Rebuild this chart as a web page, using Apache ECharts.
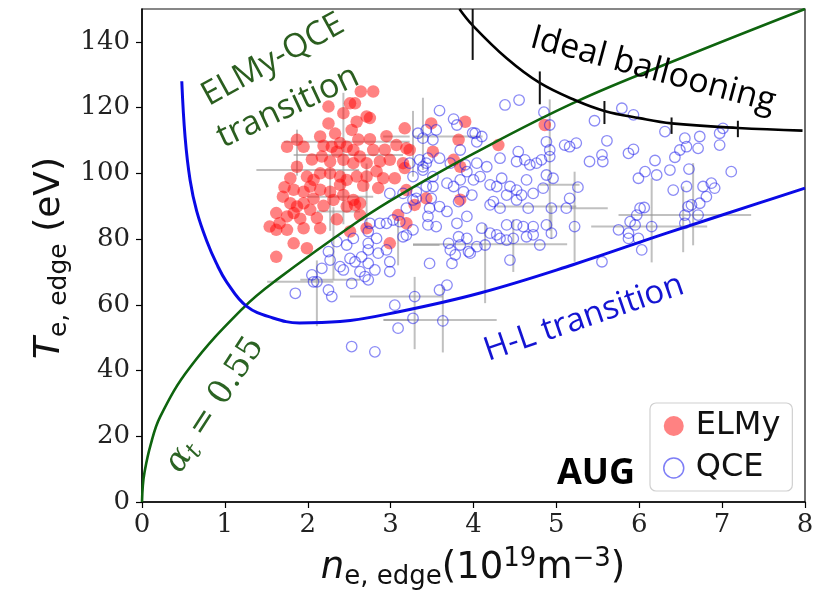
<!DOCTYPE html>
<html>
<head>
<meta charset="utf-8">
<script src="https://cdn.jsdelivr.net/npm/echarts@6/dist/echarts.min.js"></script>
<style>html,body{margin:0;padding:0;background:#fff;}#c{width:821px;height:594px;}</style>
</head>
<body>
<div id="c"></div>
<script>
// ---------- data ----------
const elmyPoints = [
[2.64,124.9],[2.79,124.9],[2.25,120.3],[2.51,121.3],[2.57,121.3],[2.71,117.3],[2.75,116.8],[2.25,115.2],[2.43,118.3],[2.15,111.2],
[1.75,108.1],[1.95,108.1],[2.39,109.2],[2.47,108.1],[2.29,108.1],[2.35,106.6],[2.55,107.1],[2.63,105.1],[2.79,107.1],[2.17,105.1],
[2.27,103.6],[2.43,104.1],[2.55,103.1],[2.71,103.1],[1.87,102.0],[1.99,99.0],[2.07,98.0],[2.15,100.0],[2.27,100.0],[2.39,99.0],
[2.47,98.0],[2.59,99.0],[2.71,99.0],[1.83,95.0],[1.95,94.4],[2.03,96.0],[2.15,95.0],[2.27,94.4],[2.31,91.9],[2.43,93.4],
[2.55,91.9],[2.63,90.9],[1.70,92.9],[1.79,90.9],[1.87,89.9],[1.95,90.9],[2.03,88.9],[1.62,87.9],[1.66,84.8],[1.75,86.9],
[1.83,87.9],[1.54,83.8],[1.62,82.8],[1.75,82.8],[1.95,83.3],[2.11,86.4],[2.15,83.3],[1.83,78.7],[1.99,77.2],[1.62,74.6],
[2.51,82.3],[2.47,89.9],[2.57,90.4],[3.17,113.7],[3.07,108.6],[3.19,107.6],[2.99,104.1],[3.17,101.6],[3.05,98.5],[3.19,94.9],
[3.09,87.3],[3.49,115.2],[3.90,115.7],[3.82,110.2],[3.51,106.6],[3.76,104.1],[3.23,107.1],[3.15,103.1],[3.84,102.0],[4.30,108.6],
[4.86,114.7],[3.43,92.4],[3.84,92.0],[3.29,90.4],[2.99,78.7],[3.19,84.8],[2.71,83.3],[2.87,103.6],[2.91,98.5],[2.85,95.5],
[2.63,87.3],[1.79,98.5],[2.59,115.7],[2.53,113.2],[1.87,110.2],[2.05,104.2],[2.19,108.4],[2.33,112.1],[2.61,110.3],[2.67,96.2],
[2.39,96.5],[2.19,90.1],[1.91,86.2],[2.07,92.3],[2.35,86.0],[2.75,110.4],[2.93,107.2],[1.72,95.8],[2.95,111.3],[2.83,100.6]
];
const qcePoints = [
[2.35,79.2],[2.47,78.2],[2.55,80.2],[2.73,82.3],[2.73,78.7],[2.83,80.2],[2.25,76.2],[2.27,73.6],[2.17,71.1],[2.39,71.6],
[2.43,70.6],[2.51,74.1],[2.57,73.1],[2.65,74.6],[2.73,76.7],[2.85,75.7],[2.95,76.7],[2.99,73.1],[2.99,70.1],[2.73,72.6],
[2.81,70.6],[2.63,70.1],[2.69,68.6],[2.73,67.6],[2.05,69.1],[2.07,67.0],[2.11,67.0],[2.53,66.5],[2.25,64.5],[2.29,62.5],
[1.85,63.5],[3.05,59.9],[3.09,52.9],[2.53,47.3],[2.81,45.7],[3.15,80.7],[2.95,84.8],[2.75,84.8],
[3.43,113.2],[3.51,110.2],[3.35,104.1],[3.43,103.1],[3.27,99.0],[3.39,102.0],[3.51,99.0],[3.43,96.0],[3.31,94.4],[3.15,93.9],
[2.99,93.9],[3.51,96.0],[3.27,91.9],[3.47,89.4],[3.11,85.3],[3.27,82.8],[3.19,81.2],[3.03,85.8],[2.87,84.8],
[3.59,119.1],[4.38,120.8],[4.55,122.3],[4.85,118.6],[3.76,116.5],[3.80,114.7],[3.55,113.2],[3.33,112.2],[3.39,110.7],[4.02,112.2],
[4.10,111.2],[4.04,109.6],[3.84,107.1],[3.59,104.6],[3.45,104.6],[3.23,103.1],[3.39,101.0],[3.72,103.1],[3.90,102.6],[4.04,103.1],
[4.16,102.0],[4.32,104.6],[4.54,106.6],[4.52,103.6],[4.62,104.1],[4.68,102.6],[4.76,103.1],[4.82,104.1],[4.92,105.1],[4.88,109.6],
[4.92,107.1],[5.10,108.6],[5.16,108.1],[5.24,109.2],[3.92,100.5],[3.84,98.0],[4.00,98.0],[4.08,99.0],[4.20,96.5],[4.28,96.0],
[4.34,98.5],[3.76,96.0],[3.68,97.0],[3.88,94.4],[3.98,93.4],[3.82,91.4],[4.44,96.0],[4.52,94.9],[4.40,93.4],[4.58,93.4],
[4.64,98.0],[4.72,93.9],[4.84,95.5],[4.96,98.5],[4.88,99.5],[5.26,95.8],[5.16,92.4],[4.94,89.4],[4.66,89.4],[4.52,91.9],
[4.20,90.4],[4.32,89.4],[4.24,91.4],[3.59,89.9],[3.49,92.4],[3.31,92.4],[3.19,89.4],[3.68,88.4],[3.92,86.9],[3.45,86.9],
[3.80,84.8],[4.40,84.3],[4.72,83.8],[4.92,114.7],[3.99,112.3],
[3.47,72.6],[3.68,66.0],[3.59,64.5],[3.29,62.5],[3.27,55.9],[3.63,55.1],[4.44,73.6],[3.74,72.6],[3.78,75.2],[3.70,78.7],
[3.84,78.2],[3.72,76.7],[3.94,76.2],[3.92,80.2],[4.04,77.7],[4.14,78.2],[4.28,81.3],[4.32,80.2],[4.40,79.7],[4.48,80.2],
[4.52,84.3],[4.60,83.8],[4.64,80.7],[4.72,81.3],[4.80,78.2],[4.88,84.3],[4.94,81.8],[5.22,83.8],[4.10,83.3],[4.20,81.8],
[3.82,80.7],[3.55,83.8],[3.45,84.3],[3.96,75.7],[5.12,89.4],
[5.79,119.8],[5.93,117.8],[5.46,116.0],[6.31,112.7],[6.55,110.7],[6.73,111.2],[6.97,112.2],[7.01,113.7],[6.97,108.6],[7.11,100.5],
[5.61,109.9],[5.55,105.6],[5.56,103.6],[5.40,103.6],[5.87,106.1],[5.93,107.3],[6.19,103.9],[6.07,100.5],[5.99,98.5],[6.21,99.5],
[6.37,101.0],[6.60,101.3],[6.49,107.1],[6.57,108.1],[6.71,107.6],[6.43,104.9],[6.41,94.9],[6.57,96.0],[6.77,96.0],[6.87,97.0],
[6.91,95.5],[6.81,92.9],[6.73,90.9],[6.63,90.4],[6.59,89.9],[6.71,87.3],[6.55,87.3],[6.55,84.8],[6.01,89.4],[6.06,89.6],
[5.97,87.3],[5.89,85.3],[5.95,84.3],[6.15,83.8],[5.75,82.8],[5.87,81.8],[5.99,80.2],[5.87,80.2],[6.03,76.7],[5.55,73.1]
];
// error bars: [x, y, xerr, yerr]
const errorBars = [
[2.00,101.0,0.62,0],[2.43,104.5,0,20],[2.47,109.6,0.76,0],[2.49,105.6,0.66,0],[1.87,106.3,0,7],
[2.27,92.0,0,9.5],[2.71,93.0,0,10],[2.39,92.9,0.40,0],[2.37,88.4,0.26,0],[3.07,111.2,0.16,0],
[3.39,112.0,0,11],[3.43,78.2,0.16,0],[2.31,78.7,0,11],[1.91,67.0,0.40,0],[2.11,63.5,0,10],
[3.07,62.5,0.56,0],[3.07,55.4,0.16,0],[2.27,67.6,0.36,0],[3.29,57.5,0,11],[3.63,55.5,0,10],
[3.60,55.4,0.68,0],[4.20,78.4,0.93,0],[6.12,83.8,0.70,0],[5.39,89.4,0.23,0],[6.55,87.3,0.80,0],
[5.22,86.8,0,13.7],[6.15,85.7,0,12.8],[6.65,90.6,0,12.5],[4.92,102.5,0,20],[4.14,72.5,0,12],
[4.48,78.0,0,8],[4.76,89.9,0.48,0],[5.04,96.5,0.24,0],[3.69,111.2,0.42,0],[6.53,86.0,0,10],
[4.94,85.0,0,5],[3.27,109.0,0,10],[3.09,79.0,0,7]
];
const hlCurve = [[0.48,128],[0.52,111],[0.58,98],[0.66,88.5],[0.78,79.5],[0.9,72.5],[1.02,67],[1.26,59.6],[1.58,56],[1.9,54.5],
[2.39,54.9],[3.1,57.9],[4.08,63.6],[5.2,72.2],[6.33,81.8],[7.45,91],[8,95.5]];
const alphaCurve = [[0,0],[0.01,5],[0.03,9],[0.1,17],[0.22,26],[0.58,41],[1.22,59],[1.62,67.5],[2.63,85.8],[3.11,93.4],
[4,106],[5.24,121.8],[6.5,135],[8,150]];
const balloonCurve = [[3.83,150],[3.99,145],[4.4,135],[4.8,127.5],[5.25,122],[5.58,119],[6.0,116.8],[6.39,115.2],[7.19,113.8],[7.97,113]];
// ideal ballooning uncertainty ticks: [x, ylow, yhigh]
const balloonErr = [[3.99,134.5,150],[4.8,121,131],[5.58,115,122],[6.39,112,117],[7.19,111,116]];

const deg = Math.PI / 180;
const chart = echarts.init(document.getElementById('c'));

function errRender(params, api) {
  const x = api.value(0), y = api.value(1), ex = api.value(2), ey = api.value(3);
  const kids = [];
  const st = {stroke: 'rgba(150,150,150,0.6)', lineWidth: 2};
  if (ex > 0) {
    const a = api.coord([x - ex, y]), b = api.coord([x + ex, y]);
    kids.push({type: 'line', shape: {x1: a[0], y1: a[1], x2: b[0], y2: b[1]}, style: st});
  }
  if (ey > 0) {
    const a = api.coord([x, y - ey]), b = api.coord([x, y + ey]);
    kids.push({type: 'line', shape: {x1: a[0], y1: a[1], x2: b[0], y2: b[1]}, style: st});
  }
  return {type: 'group', children: kids};
}
function balloonRender(params, api) {
  const a = api.coord([api.value(0), api.value(1)]), b = api.coord([api.value(0), api.value(2)]);
  return {type: 'line', shape: {x1: a[0], y1: a[1], x2: b[0], y2: b[1]}, style: {stroke: '#111', lineWidth: 2}};
}

const option = {
  backgroundColor: '#fff',
  animation: false,
  grid: {left: 142, right: 16, top: 9, bottom: 92, show: true, borderColor: '#111', borderWidth: 1.2, backgroundColor: 'rgba(0,0,0,0)'},
  xAxis: {
    type: 'value', min: 0, max: 8, interval: 1,
    axisLine: {show: true, onZero: false, lineStyle: {color: '#000', width: 1.5}},
    axisTick: {show: true, inside: false, length: 6, lineStyle: {color: '#000', width: 1.2}},
    axisLabel: {fontFamily: 'DejaVu Serif', fontSize: 26, color: '#222', margin: 10},
    splitLine: {show: false}
  },
  yAxis: {
    type: 'value', min: 0, max: 150, interval: 20,
    axisLine: {show: true, onZero: false, lineStyle: {color: '#000', width: 1.5}},
    axisTick: {show: true, inside: false, length: 6, lineStyle: {color: '#000', width: 1.2}},
    axisLabel: {fontFamily: 'DejaVu Serif', fontSize: 26, color: '#222', margin: 12, showMaxLabel: false},
    splitLine: {show: false}
  },
  legend: {
    data: [
      {name: 'ELMy', icon: 'circle'},
      {name: 'QCE', icon: 'circle', itemStyle: {color: 'rgba(0,0,0,0)', borderColor: 'rgba(40,40,240,0.75)', borderWidth: 1.5}}
    ],
    orient: 'vertical', left: 650, top: 403,
    itemWidth: 20, itemHeight: 20, itemGap: 4,
    padding: [4, 12, 4, 13],
    backgroundColor: 'rgba(255,255,255,0.85)', borderColor: '#d0d0d0', borderWidth: 1.2, borderRadius: 6,
    textStyle: {fontFamily: 'DejaVu Sans', fontSize: 32, color: '#111', lineHeight: 38, padding: [0, 0, 0, 7]}
  },
  series: [
    {type: 'custom', name: 'err', renderItem: errRender, data: errorBars, encode: {x: 0, y: 1}, z: 1, silent: true, clip: true},
    {type: 'scatter', name: 'ELMy', data: elmyPoints, symbol: 'circle', symbolSize: 12.5,
     itemStyle: {color: 'rgba(255,10,10,0.64)'}, z: 3},
    {type: 'scatter', name: 'QCE', data: qcePoints, symbol: 'circle', symbolSize: 10.5,
     itemStyle: {color: 'rgba(0,0,0,0)', borderColor: 'rgba(20,20,235,0.62)', borderWidth: 1.3}, z: 4},
    {type: 'line', name: 'alpha', data: alphaCurve, smooth: 0.4, symbol: 'none',
     lineStyle: {color: '#0e640e', width: 2.6}, z: 5, clip: true},
    {type: 'line', name: 'HL', data: hlCurve, smooth: 0.4, symbol: 'none',
     lineStyle: {color: '#0a0ae6', width: 3}, z: 5, clip: true},
    {type: 'line', name: 'ballooning', data: balloonCurve, smooth: 0.4, symbol: 'none',
     lineStyle: {color: '#000', width: 2.6}, z: 5, clip: true},
    {type: 'custom', name: 'berr', renderItem: balloonRender, data: balloonErr, encode: {x: 0, y: [1, 2]}, z: 6, silent: true}
  ],
  graphic: [
    {type: 'text', x: 273, y: 60, rotation: 29 * deg, z: 100,
     style: {text: 'ELMy-QCE', fontFamily: 'Open Sans', fontSize: 33, fill: '#2b5e1f', align: 'center', verticalAlign: 'middle'}},
    {type: 'text', x: 288, y: 107, rotation: 25 * deg, z: 100,
     style: {text: 'transition', fontFamily: 'Open Sans', fontSize: 34, fill: '#2b5e1f', align: 'center', verticalAlign: 'middle'}},
    {type: 'text', x: 653, y: 70, rotation: -15 * deg, z: 100,
     style: {text: 'Ideal ballooning', fontFamily: 'Open Sans', fontSize: 34, fill: '#000', align: 'center', verticalAlign: 'middle'}},
    {type: 'text', x: 584, y: 318, rotation: 19 * deg, z: 100,
     style: {text: 'H-L transition', fontFamily: 'Open Sans', fontSize: 33, fill: '#1414d2', align: 'center', verticalAlign: 'middle'}},
    {type: 'text', x: 215, y: 405, rotation: 57 * deg, z: 100,
     style: {text: '{a|α}{t|t}{r| = 0.55}', align: 'center', verticalAlign: 'middle', fill: '#2b6323',
       rich: {
         a: {fontFamily: 'DejaVu Serif', fontStyle: 'italic', fontSize: 33, fill: '#2b6323', lineHeight: 40},
         t: {fontFamily: 'DejaVu Serif', fontStyle: 'italic', fontSize: 24, fill: '#2b6323', lineHeight: 18, verticalAlign: 'bottom'},
         r: {fontFamily: 'DejaVu Serif', fontSize: 33, fill: '#2b6323', lineHeight: 40}
       }}},
    {type: 'text', x: 596, y: 474, z: 100,
     style: {text: 'AUG', fontFamily: 'Open Sans', fontWeight: 'bold', fontSize: 36, fill: '#000', align: 'center', verticalAlign: 'middle'}},
    {type: 'text', x: 473, y: 568, z: 100,
     style: {text: '{i|n}{s|e, edge}{m|(10}{p|19}{m|m}{p|−3}{m|)}', align: 'center', verticalAlign: 'middle', fill: '#111',
       rich: {
         i: {fontFamily: 'DejaVu Sans', fontStyle: 'italic', fontSize: 37, fill: '#111', lineHeight: 44},
         s: {fontFamily: 'DejaVu Sans', fontSize: 26, fill: '#111', lineHeight: 20, verticalAlign: 'bottom'},
         m: {fontFamily: 'DejaVu Sans', fontSize: 37, fill: '#111', lineHeight: 44},
         p: {fontFamily: 'DejaVu Sans', fontSize: 26, fill: '#111', lineHeight: 20, verticalAlign: 'top'}
       }}},
    {type: 'text', x: 50, y: 258, rotation: 90 * deg, z: 100,
     style: {text: '{i|T}{s|e, edge}{m| (eV)}', align: 'center', verticalAlign: 'middle', fill: '#111',
       rich: {
         i: {fontFamily: 'DejaVu Sans', fontStyle: 'italic', fontSize: 36, fill: '#111', lineHeight: 44},
         s: {fontFamily: 'DejaVu Sans', fontSize: 25, fill: '#111', lineHeight: 20, verticalAlign: 'bottom'},
         m: {fontFamily: 'DejaVu Sans', fontSize: 36, fill: '#111', lineHeight: 44}
       }}}
  ]
};
chart.setOption(option);
</script>
</body>
</html>
